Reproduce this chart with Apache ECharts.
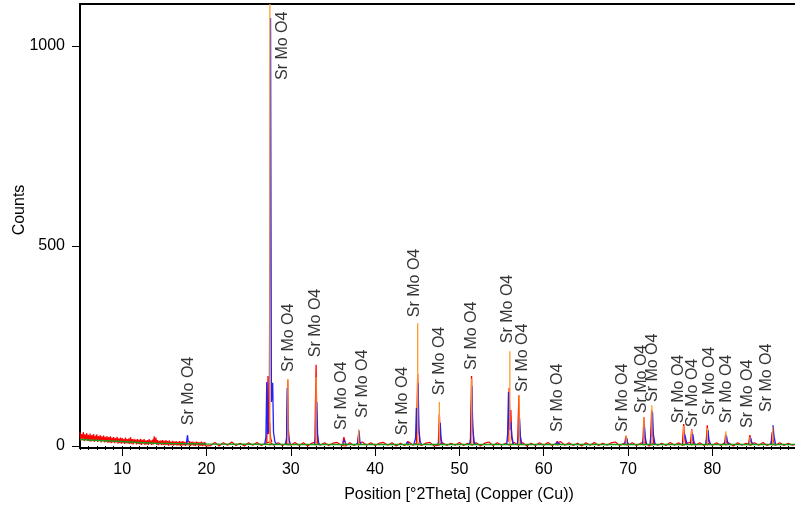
<!DOCTYPE html>
<html><head><meta charset="utf-8">
<script src="https://cdn.jsdelivr.net/npm/echarts@6/dist/echarts.min.js"></script>
<style>html,body{margin:0;padding:0;background:#fff}#c{width:795px;height:517px}</style>
</head><body><div id="c"></div>
<script>
// ---- axis ticks ----
const xTickLabels = [10, 20, 30, 40, 50, 60, 70, 80];
const yTickLabels = [0, 500, 1000];
const xRange = [5, 89.8];
const yRange = [-5, 1105];

// ---- observed (red) noisy baseline: low-angle part sampled every 0.1 deg from 5.0 ----
const redLowStart = 5.0, redLowStep = 0.1;
const redLowY = [
  34,14,30,18,35,12,29,16,32,13,
  28,12,31,11,27,14,30,10,26,13,
  29,10,25,13,27,9,24,12,26,9,
  23,10,25,8,22,9,24,7,21,9,
  22,7,20,9,23,6,19,8,21,6,
  20,7,18,5,21,7,17,6,19,5,
  22,6,17,4,18,7,16,4,17,5,
  16,4,18,3,15,6,17,3,14,4,
  15,3,17,5,14,3,16,4,24,6,
  21,3,15,2,13,4,14,2,15,3,
  13,2,15,3,12,1,14,2,11,2,
  13,1,11,3,12,1,10,2,12,0,
  11,1,12,2,10,0,11,2,10,1,
  12,0,10,2,11,1,9,0,11,2,
  10,0,9,1,11,0,9,1,10,0];
// ---- observed (red) baseline: 20..90 deg sampled every 0.5 deg ----
const redHighStart = 20.0, redHighStep = 0.5;
const redHighY = [5,1,9,0,8,2,10,1,7,0, 8,2,9,1,7,10,2,8,1,7,
  2,9,1,8,0,7,10,2,8,1, 7,9,2,0,8,1,7,10,2,8,
  1,7,9,2,8,0,7,1,10,2, 8,1,7,9,0,2,8,1,7,2,
  9,1,7,2,8,0,7,10,1,8, 2,7,1,9,2,8,0,7,1,8,
  2,9,1,7,11,2,8,1,7,0, 8,2,9,1,7,2,8,10,1,7,
  2,8,1,7,9,0,8,2,7,1, 9,2,8,1,7,10,2,8,1,7,
  2,8,1,9,7,0,8,2,7,1, 8,2,9,1,7,2,8,1,7,2, 5];

// ---- observed (red) peaks ----
const redPeaks = [
  [[17.7,6],[17.8,12],[17.9,6]],
  [[27.15,8],[27.3,175],[27.38,30],[27.5,60],[27.6,20],[27.75,10]],
  [[29.5,6],[29.64,165],[29.72,40],[29.85,6]],
  [[32.85,6],[33.0,203],[33.08,60],[33.2,8]],
  [[36.15,6],[36.3,22],[36.45,8]],
  [[37.9,6],[38.03,30],[38.15,8]],
  [[43.75,6],[43.88,12],[44.0,6]],
  [[44.9,8],[45.05,180],[45.15,50],[45.3,8]],
  [[47.5,6],[47.62,80],[47.72,30],[47.85,6]],
  [[51.3,6],[51.44,175],[51.55,60],[51.7,6]],
  [[55.75,10],[55.9,145],[56.0,40],[56.1,90],[56.2,20],[56.35,6]],
  [[56.9,6],[57.05,127],[57.15,40],[57.3,6]],
  [[61.45,6],[61.6,12],[61.7,5],[61.8,9],[61.95,5]],
  [[69.6,6],[69.75,25],[69.88,10],[70.0,5]],
  [[71.75,6],[71.88,72],[71.98,20],[72.1,6]],
  [[72.65,6],[72.8,90],[72.9,30],[73.05,6]],
  [[76.45,6],[76.6,55],[76.72,20],[76.85,6]],
  [[77.4,6],[77.55,42],[77.66,15],[77.8,6]],
  [[79.25,6],[79.4,52],[79.5,20],[79.65,6]],
  [[81.45,6],[81.58,30],[81.7,10],[81.85,6]],
  [[84.3,6],[84.45,27],[84.55,12],[84.7,6]],
  [[86.95,6],[87.1,35],[87.2,15],[87.35,6]]
];

// ---- calculated profile (blue) peaks ----
const bluePeaks = [
  [[17.6,4],[17.75,27],[17.85,8],[17.95,4]],
  [[26.9,4],[27.05,22],[27.15,160],[27.25,30],[27.45,45],[27.6,1070],[27.7,110],[27.85,158],[27.95,35],[28.1,12],[28.3,4]],
  [[29.35,4],[29.5,20],[29.58,145],[29.68,30],[29.8,15],[29.95,4]],
  [[32.8,4],[32.95,20],[33.08,110],[33.18,30],[33.3,8],[33.45,4]],
  [[36.2,4],[36.35,15],[36.45,8],[36.6,4]],
  [[37.85,4],[38.0,12],[38.1,38],[38.2,10],[38.35,4]],
  [[43.7,4],[43.85,10],[44.0,4]],
  [[44.6,4],[44.8,20],[44.9,95],[45.0,30],[45.1,157],[45.2,40],[45.35,10],[45.5,4]],
  [[47.45,4],[47.6,15],[47.72,58],[47.82,20],[47.95,4]],
  [[51.2,4],[51.35,20],[51.48,150],[51.58,45],[51.75,10],[51.9,4]],
  [[55.6,4],[55.72,30],[55.82,135],[55.95,40],[56.1,60],[56.22,25],[56.4,4]],
  [[56.85,4],[57.0,20],[57.12,70],[57.22,25],[57.4,4]],
  [[61.45,4],[61.6,10],[61.75,6],[61.9,4]],
  [[69.6,4],[69.75,14],[69.85,20],[69.95,8],[70.1,4]],
  [[71.7,4],[71.85,20],[71.95,48],[72.05,20],[72.2,4]],
  [[72.6,4],[72.75,30],[72.9,85],[73.0,30],[73.2,4]],
  [[76.45,4],[76.6,15],[76.7,30],[76.8,22],[77.0,4]],
  [[77.4,4],[77.55,15],[77.68,30],[77.8,12],[77.95,4]],
  [[79.2,4],[79.35,20],[79.48,40],[79.6,15],[79.8,4]],
  [[81.4,4],[81.55,12],[81.68,25],[81.8,10],[82.0,4]],
  [[84.3,4],[84.45,12],[84.55,20],[84.65,10],[84.85,4]],
  [[86.95,4],[87.1,20],[87.2,52],[87.3,25],[87.5,4]]
];

// ---- reference pattern sticks (orange): position, height ----
const stickPos = [17.85, 27.52, 29.66, 33.0, 36.35, 38.05, 43.9, 45.05, 47.62, 51.46, 55.98, 57.08,
  61.65, 69.78, 71.88, 72.83, 76.6, 77.55, 79.4, 81.6, 84.45, 87.15];
const stickH = [10, 1200, 168, 172, 10, 42, 6, 307, 110, 168, 237, 127,
  5, 27, 70, 102, 50, 40, 45, 37, 22, 48];

// ---- background (green) ----
const bgX = [5, 6, 8, 10, 12, 14, 16, 20, 30, 50, 70, 90];
const bgY = [16, 15, 13, 11, 9, 7, 6, 5, 4, 4, 4, 4];

// ---- phase labels ----
const labelText = 'Sr Mo O4';
const labelX = [17.9, 29.05, 29.78, 32.98, 36.05, 38.55, 43.3, 44.72, 47.68, 51.47, 55.74, 57.52,
  61.67, 69.38, 71.64, 72.94, 76.04, 77.7, 79.7, 81.72, 84.2, 86.46];
const labelY = [52, 915, 185, 222, 40, 70, 27, 322, 127, 190, 257, 135,
  35, 35, 82, 110, 57, 47, 77, 57, 45, 85];

// ---- build series data ----
const redBase = [];
redLowY.forEach((v, i) => redBase.push([+(redLowStart + i * redLowStep).toFixed(2), v]));
redHighY.forEach((v, i) => redBase.push([+(redHighStart + i * redHighStep).toFixed(2), v]));
function flatten(peaks) {
  const out = [];
  peaks.forEach((pk, i) => { if (i) out.push([pk[0][0], '-']); pk.forEach(p => out.push(p)); });
  return out;
}
const redPk = flatten(redPeaks);
const bluePk = flatten(bluePeaks);
const sticks = stickPos.map((x, i) => [x, stickH[i]]);
const bg = bgX.map((x, i) => [x, bgY[i]]);
const labels = labelX.map((x, i) => [x, labelY[i]]);

const FONT = 'Liberation Sans';
const TXT = '#000';
const chart = echarts.init(document.getElementById('c'), null, {renderer: 'canvas'});
chart.setOption({
  animation: false,
  backgroundColor: '#fff',
  grid: {left: 80, right: 0, top: 4, bottom: 69},
  xAxis: [
    {type: 'value', min: xRange[0], max: xRange[1], position: 'bottom', splitLine: {show: false},
      axisLine: {show: true, onZero: false, lineStyle: {color: '#000', width: 2}},
      axisTick: {show: true, length: 8, customValues: xTickLabels, lineStyle: {color: '#000', width: 1}},
      axisLabel: {show: true, customValues: xTickLabels, margin: 14, fontSize: 16, fontFamily: FONT, color: TXT}},
    {type: 'value', min: xRange[0], max: xRange[1], interval: 1, position: 'bottom', splitLine: {show: false},
      axisLine: {show: false}, axisLabel: {show: false},
      axisTick: {show: true, length: 4, lineStyle: {color: '#000', width: 1}}},
    {type: 'value', min: xRange[0], max: xRange[1], position: 'top', splitLine: {show: false},
      axisLine: {show: true, lineStyle: {color: '#000', width: 2}}, axisTick: {show: false}, axisLabel: {show: false}}
  ],
  yAxis: {type: 'value', min: yRange[0], max: yRange[1], splitLine: {show: false},
    axisLine: {show: true, onZero: false, lineStyle: {color: '#000', width: 2}},
    axisTick: {show: true, length: 8, customValues: yTickLabels, lineStyle: {color: '#000', width: 1}},
    axisLabel: {show: true, customValues: yTickLabels, margin: 15, fontSize: 16, fontFamily: FONT, color: TXT,
      formatter: v => String(v)}},
  graphic: [
    {type: 'text', x: 459, y: 495, style: {text: 'Position [°2Theta] (Copper (Cu))', align: 'center', verticalAlign: 'middle',
      font: '16px "Liberation Sans"', fill: TXT}},
    {type: 'text', x: 20, y: 210, rotation: Math.PI / 2, style: {text: 'Counts', align: 'center', verticalAlign: 'middle',
      font: '16px "Liberation Sans"', fill: TXT}}
  ],
  series: [
    {type: 'line', data: redBase, symbol: 'none', z: 2, lineStyle: {color: '#ff0000', width: 1.2}},
    {type: 'line', data: redPk, symbol: 'none', z: 2, connectNulls: false, lineStyle: {color: '#ff0000', width: 1.3}},
    {type: 'line', data: bluePk, symbol: 'none', z: 3, connectNulls: false, lineStyle: {color: '#1f1fff', width: 1.3}},
    {type: 'custom', data: sticks, z: 4, clip: true, encode: {x: 0, y: 1},
      renderItem: function (params, api) {
        const p0 = api.coord([api.value(0), 0]);
        const p1 = api.coord([api.value(0), api.value(1)]);
        const top = params.coordSys.y;
        return {type: 'line', shape: {x1: p0[0], y1: p0[1], x2: p1[0], y2: Math.max(p1[1], top)},
          style: {stroke: '#ff9a2e', lineWidth: 1.3}};
      }},
    {type: 'line', data: bg, symbol: 'none', z: 5, lineStyle: {color: '#1a9a1a', width: 1.5}},
    {type: 'scatter', data: labels, z: 6, symbolSize: 0.1, itemStyle: {color: 'transparent'},
      label: {show: true, formatter: labelText, position: 'inside', rotate: 90, align: 'left', verticalAlign: 'middle',
        fontSize: 16, fontFamily: FONT, color: TXT}}
  ]
});
</script></body></html>
